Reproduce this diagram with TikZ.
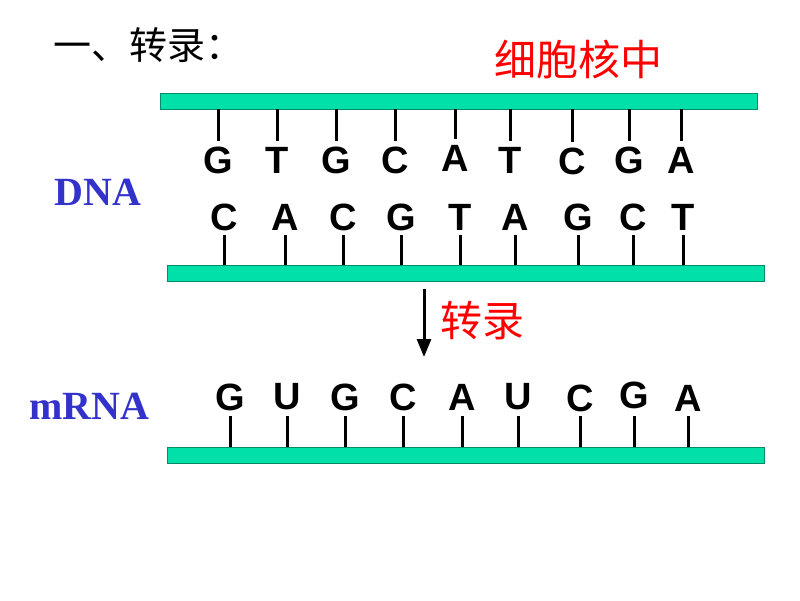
\documentclass[tikz,border=0pt]{standalone}
\usepackage{fontspec}
\setmainfont{Liberation Sans}
\newfontfamily\cjk{Noto Sans CJK SC}
\newfontfamily\serifb{Liberation Serif}
\usetikzlibrary{arrows.meta}
\definecolor{barfill}{RGB}{0,224,168}
\definecolor{baredge}{RGB}{0,140,100}
\definecolor{lblue}{RGB}{51,51,204}
\tikzset{
  bar/.style={draw=baredge,line width=0.8pt,fill=barfill},
  base/.style={font=\fontsize{38}{38}\selectfont\bfseries,inner sep=0pt,anchor=center},
  tick/.style={line width=3pt},
  redtxt/.style={text=red,font=\cjk\fontsize{42}{42}\selectfont,inner sep=0pt},
  lbl/.style={text=lblue,font=\serifb\fontsize{40}{40}\selectfont\bfseries,inner sep=0pt},
}
\begin{document}
\begin{tikzpicture}[x=1pt,y=-1pt]
\useasboundingbox (0,0) rectangle (800,600);
% title
\node[font=\cjk\fontsize{38}{38}\selectfont,anchor=west,inner sep=0pt] (title) at (53,45) {一、转录：};
\node[redtxt,anchor=west] (nuc) at (494,60) {细胞核中};
% bars
\path[bar] (160,93) rectangle (757,109);
\path[bar] (167,265) rectangle (764,281);
\path[bar] (167,447) rectangle (764,463);
% labels
\node[lbl] (dna) at (98,192) {DNA};
\node[lbl] (mrna) at (89,406) {mRNA};
% top strand
\foreach \x/\c/\y/\t [count=\i] in {218/G/160/141,277/T/160/141,336/G/160/141,395/C/160/141,455/A/158/139,510/T/160/141,572/C/161/142,629/G/160/141,681/A/160/141}{
  \node[base] (u\i) at (\x,\y) {\c};
  \draw[tick] (\x,109) -- (\x,\t);
}
% bottom strand
\foreach \x/\c [count=\i] in {224/C,285/A,343/C,401/G,460/T,515/A,578/G,633/C,683/T}{
  \node[base] (l\i) at (\x,217) {\c};
  \draw[tick] (\x,235) -- (\x,265);
}
% mRNA
\foreach \x/\c/\y [count=\i] in {230/G/397,287/U/397,345/G/397,403/C/397,462/A/397,518/U/397,580/C/398,634/G/395,688/A/398}{
  \node[base] (m\i) at (\x,\y) {\c};
  \draw[tick] (\x,416) -- (\x,447);
}
% arrow
\coordinate (as) at (424,289);
\coordinate (ae) at (424,357);
\draw[line width=3pt,-{Triangle[width=14pt,length=18pt]}] (as) -- (ae);
\node[redtxt,anchor=west] (tr) at (440,321) {转录};
\end{tikzpicture}
\end{document}
